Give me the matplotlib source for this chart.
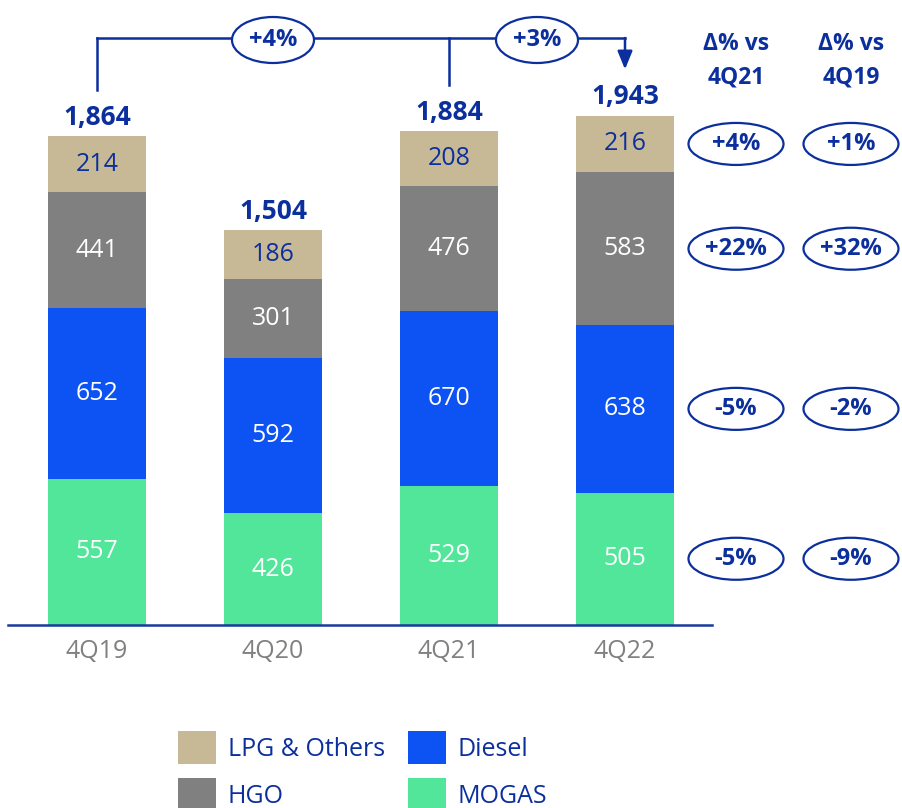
import matplotlib
matplotlib.use("Agg")
import matplotlib.pyplot as plt
from matplotlib.patches import Ellipse, Patch

plt.rcParams['font.family'] = ['Open Sans', 'DejaVu Sans']

# data
quarters = ["4Q19", "4Q20", "4Q21", "4Q22"]
mogas = [557, 426, 529, 505]
diesel = [652, 592, 670, 638]
hgo = [441, 301, 476, 583]
lpg = [214, 186, 208, 216]
totals = [1864, 1504, 1884, 1943]
vs_4q21 = ["-5%", "-5%", "+22%", "+4%"]   # MOGAS, Diesel, HGO, LPG
vs_4q19 = ["-9%", "-2%", "+32%", "+1%"]
growth_labels = ["+4%", "+3%"]
headers = ["Δ% vs\n4Q21", "Δ% vs\n4Q19"]

navy = "#0b2f9c"
colors = {"MOGAS": "#52e69b", "Diesel": "#0d52f2", "HGO": "#808080", "LPG & Others": "#c8b996"}

W, H = 902, 808
fig = plt.figure(figsize=(W / 100, H / 100), dpi=100)
ax = fig.add_axes([0, 0, 1, 1])
ax.axis("off")

# pixel -> data helpers (axes covers the full figure)
x0, step, base, scale = 97, 176, 625, 0.2623
def px(xp):
    return (xp - x0) / step
def py(yp):
    return (base - yp) / scale

ax.set_xlim(px(0), px(W))
ax.set_ylim(py(H), py(0))

x = list(range(len(quarters)))
width = 98 / step
series = [("MOGAS", mogas), ("Diesel", diesel), ("HGO", hgo), ("LPG & Others", lpg)]
bottoms = [0] * 4
mids = {}
for name, vals in series:
    ax.bar(x, vals, bottom=bottoms, width=width, color=colors[name], zorder=2)
    tc = navy if name == "LPG & Others" else "white"
    mids[name] = []
    for i, v in enumerate(vals):
        m = bottoms[i] + v / 2
        mids[name].append(m)
        ax.text(i, m, str(v), ha="center", va="center", fontsize=18, color=tc, zorder=3)
    bottoms = [b + v for b, v in zip(bottoms, vals)]

# totals
for i, t in enumerate(totals):
    ax.annotate(f"{t:,}", (i, t), xytext=(0, 8), textcoords="offset points",
                ha="center", va="baseline", fontsize=19, fontweight="bold", color=navy)

# baseline and category labels
ax.plot([px(8), px(712)], [0, 0], color="#1a3aa0", lw=1.8, zorder=4)
for i, q in enumerate(quarters):
    ax.text(i, py(651), q, ha="center", va="center", fontsize=18, color="#808080")

# growth bracket
gap = 46 / scale
ytop = py(38)
ax.plot([0, 0], [totals[0] + gap, ytop], color=navy, lw=1.8)
ax.plot([0, 3], [ytop, ytop], color=navy, lw=1.8)
ax.plot([2, 2], [totals[2] + gap, ytop], color=navy, lw=1.8)
ax.annotate("", xy=(3, totals[3] + gap), xytext=(3, ytop),
            arrowprops=dict(arrowstyle="-|>,head_length=1.1,head_width=0.45", color=navy, lw=1.8,
                            shrinkA=0, shrinkB=0))
for cx, lab in zip([1, 2.5], growth_labels):
    ax.add_patch(Ellipse((cx, py(40)), 82 / step, 46 / scale, facecolor="white",
                         edgecolor=navy, lw=1.6, zorder=5))
    ax.text(cx, py(40), lab, ha="center", va="center", fontsize=17, fontweight="bold",
            color=navy, zorder=6)

# right side comparison columns
col_x = [px(736), px(851)]
for cx, head, labs in zip(col_x, headers, [vs_4q21, vs_4q19]):
    ax.text(cx, py(61), head, ha="center", va="center", fontsize=16.5, fontweight="bold",
            color=navy, linespacing=1.5)
    for (name, _), lab in zip(series, labs):
        cy = mids[name][3]
        ax.add_patch(Ellipse((cx, cy), 95 / step, 42 / scale, facecolor="white",
                             edgecolor=navy, lw=1.6, zorder=5))
        ax.text(cx, cy, lab, ha="center", va="center", fontsize=17, fontweight="bold",
                color=navy, zorder=6)

# legend
order = ["LPG & Others", "HGO", "Diesel", "MOGAS"]
handles = [Patch(facecolor=colors[n], edgecolor="none", label=n) for n in order]
fig.legend(handles=handles, ncol=2, frameon=False, loc="upper left",
           bbox_to_anchor=(178 / W, 1 - 731 / H), fontsize=18, labelcolor=navy,
           handlelength=1.52, handleheight=1.65, handletextpad=0.48, columnspacing=0.9,
           labelspacing=0.56, borderpad=0, borderaxespad=0)

fig.savefig("out.png", dpi=100)
